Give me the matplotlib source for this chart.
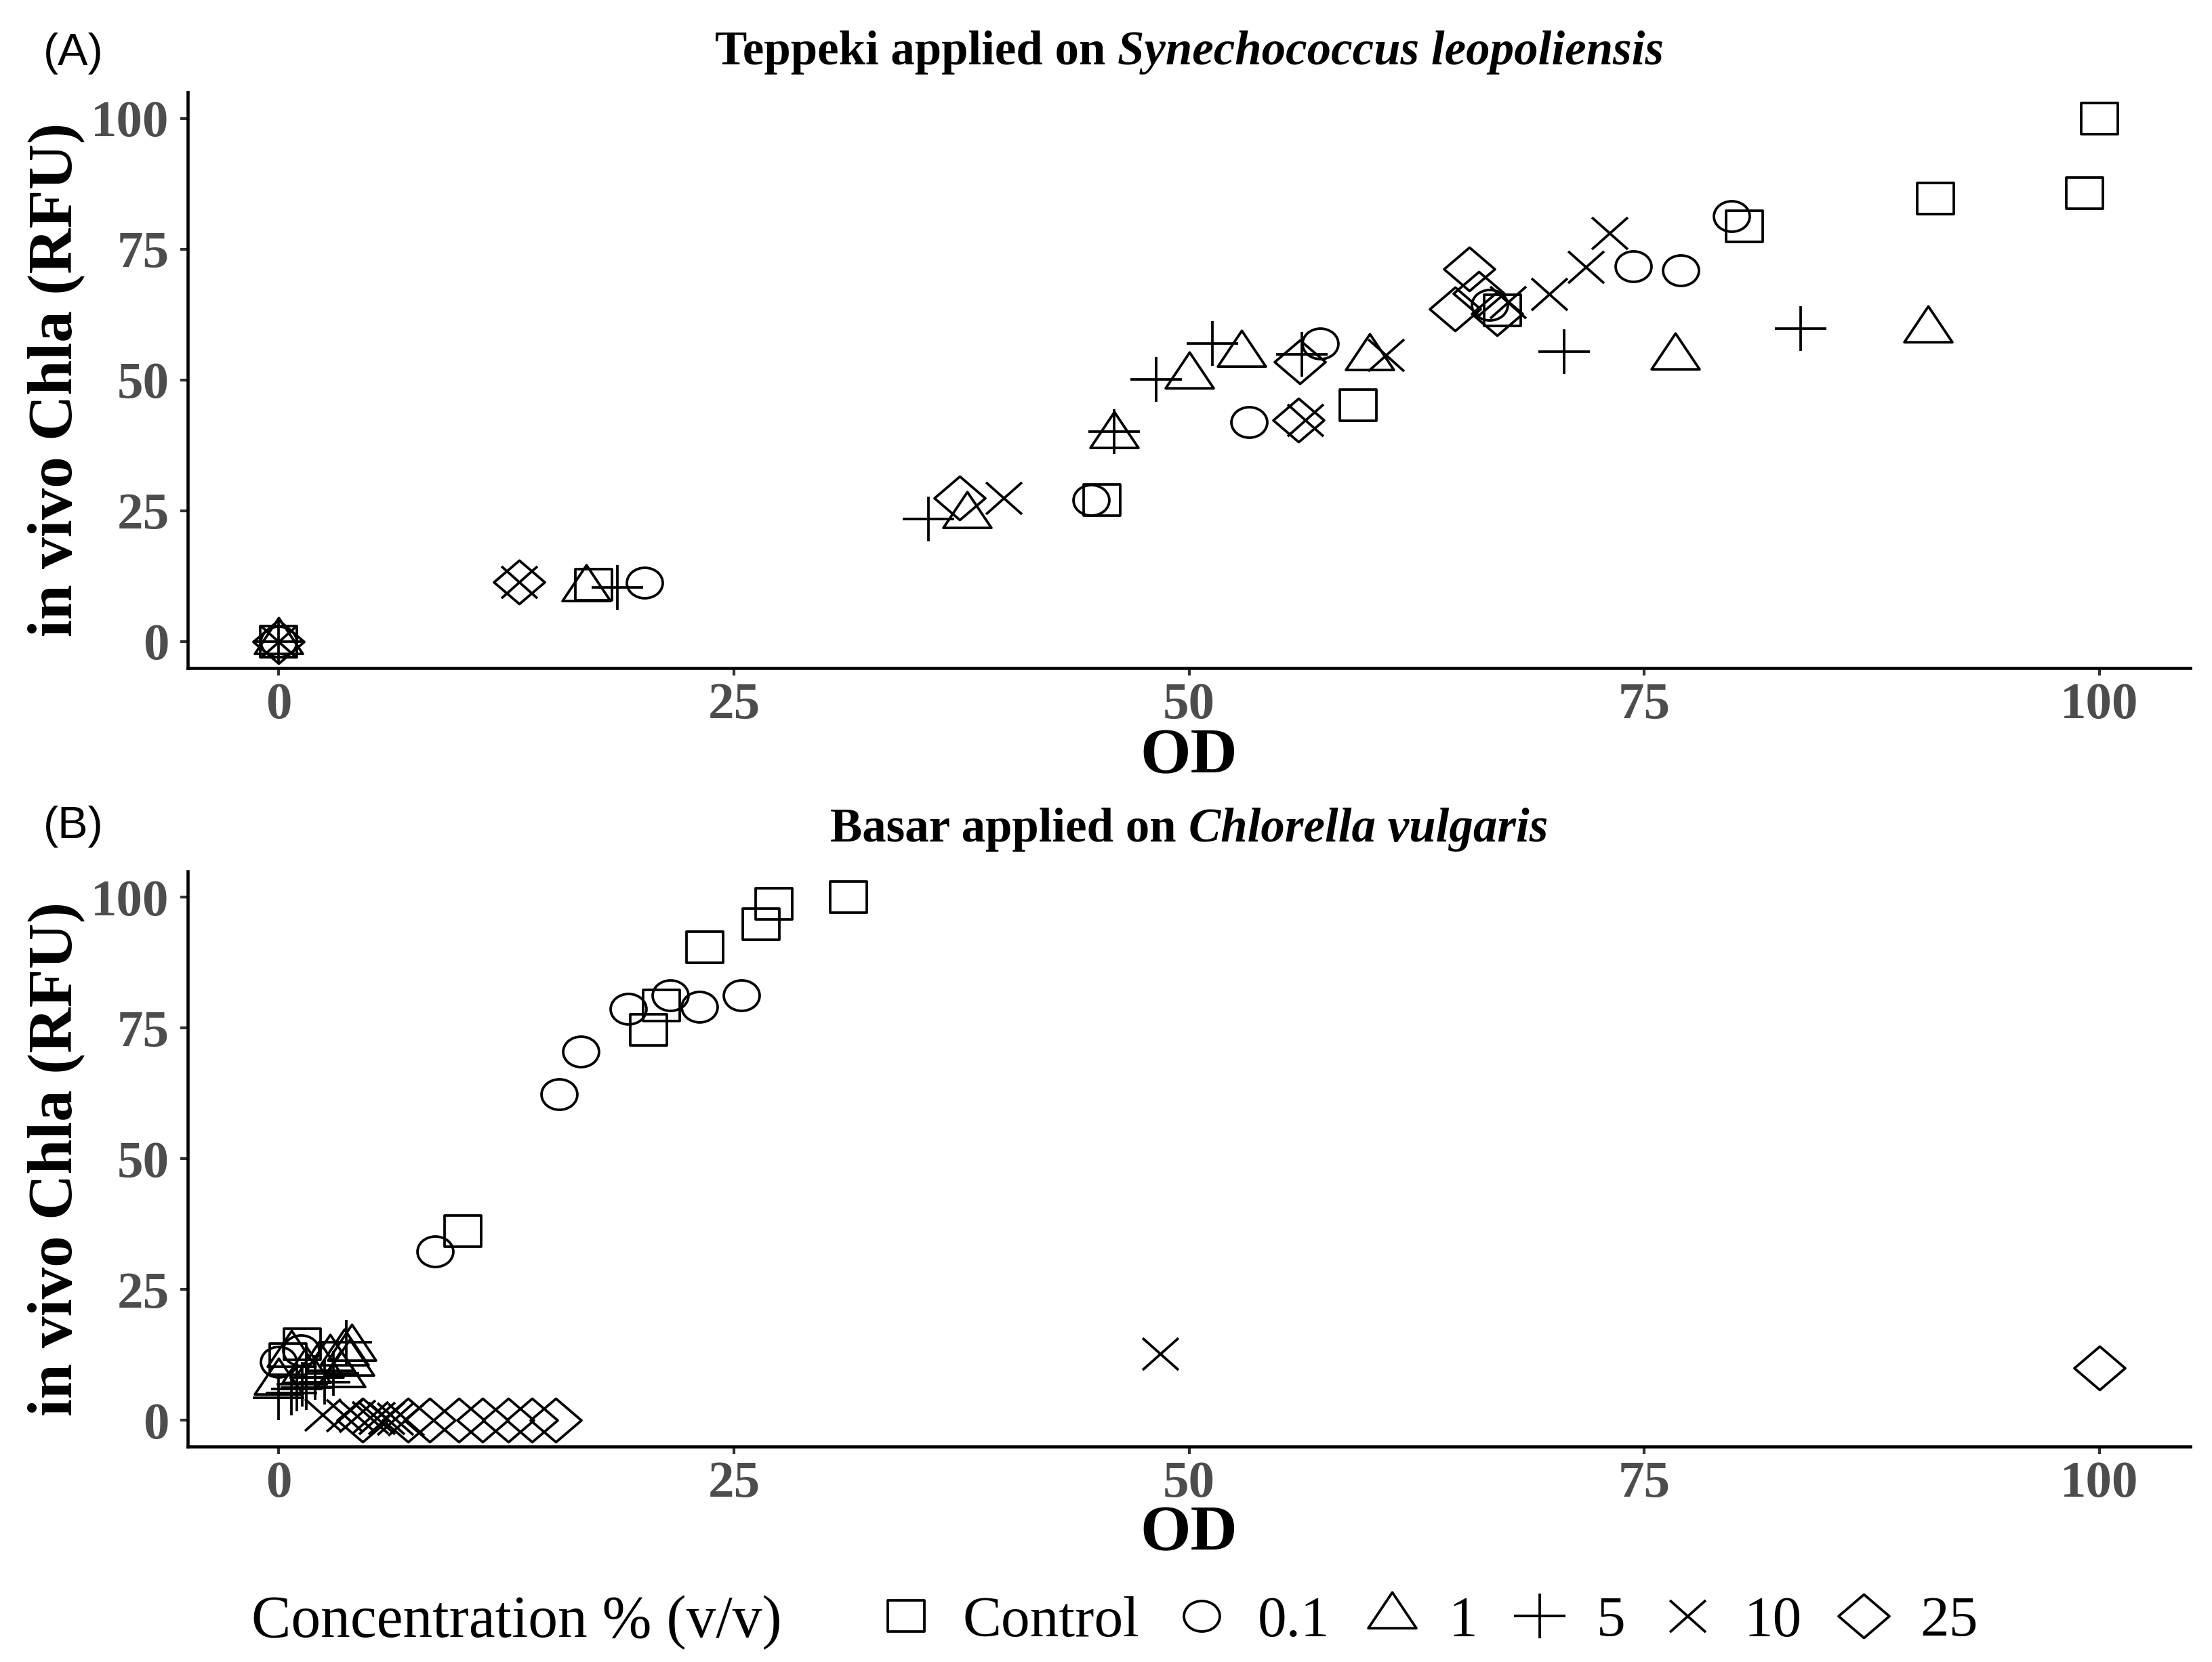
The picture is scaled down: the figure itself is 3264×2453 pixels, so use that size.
import numpy as np
import matplotlib
matplotlib.use("Agg")
import matplotlib.pyplot as plt
from matplotlib.path import Path
from matplotlib.lines import Line2D

# ---------------- data ----------------
groups = ["Control", "0.1", "1", "5", "10", "25"]

a_ctrl_x = [0, 17.3, 45.2, 59.3, 67.2, 80.5, 91.0, 99.2, 100.0]
a_ctrl_y = [0, 10.9, 27.0, 45.2, 63.3, 79.4, 84.6, 85.7, 100.0]
a_01_x = [0, 20.1, 44.6, 53.3, 57.2, 66.5, 74.4, 77.0, 79.8]
a_01_y = [0, 11.2, 27.0, 41.9, 56.9, 64.4, 71.7, 70.9, 81.3]
a_1_x = [0, 16.9, 37.8, 45.9, 50.0, 52.9, 59.9, 76.7, 90.6]
a_1_y = [0, 10.1, 24.1, 39.4, 50.7, 54.9, 54.2, 54.4, 59.6]
a_5_x = [0, 18.6, 35.7, 45.9, 48.2, 51.3, 56.2, 70.6, 83.6]
a_5_y = [0, 10.3, 23.4, 40.1, 50.1, 57.0, 54.9, 55.4, 59.8]
a_10_x = [0, 13.2, 39.8, 56.4, 60.8, 67.5, 69.8, 71.8, 73.1]
a_10_y = [0, 11.4, 27.4, 42.3, 54.7, 64.8, 66.4, 71.6, 78.0]
a_25_x = [0, 13.2, 37.4, 56.0, 56.1, 64.6, 65.4, 65.9, 66.9]
a_25_y = [0, 11.4, 27.4, 42.3, 53.4, 63.5, 71.2, 66.6, 62.7]

b_ctrl_x = [0.5, 1.3, 10.1, 20.3, 21.0, 23.4, 26.5, 27.2, 31.3]
b_ctrl_y = [11.7, 14.6, 36.2, 74.7, 79.3, 90.4, 94.8, 98.7, 100.0]
b_01_x = [0.0, 1.2, 8.6, 15.4, 16.6, 19.2, 21.5, 23.1, 25.4]
b_01_y = [11.2, 13.4, 32.3, 62.4, 70.5, 78.7, 81.2, 79.0, 81.2]
b_1_x = [0.0, 0.7, 1.5, 2.2, 2.8, 3.4, 3.6, 3.9, 4.0]
b_1_y = [7.3, 12.6, 9.5, 10.5, 11.9, 8.8, 12.9, 10.9, 13.8]
b_5_x = [0.0, 0.7, 1.0, 1.3, 1.5, 2.0, 2.5, 3.0, 3.7]
b_5_y = [4.3, 5.2, 6.0, 6.9, 6.3, 8.2, 7.3, 9.0, 15.0]
b_10_x = [2.4, 3.6, 4.3, 5.0, 5.4, 5.9, 6.4, 7.0, 48.4]
b_10_y = [1.1, 1.0, 0.8, 0.6, 0.5, 0.4, 0.3, 0.2, 12.7]
b_25_x = [4.6, 7.1, 8.3, 9.9, 11.2, 12.6, 13.9, 15.2, 100.0]
b_25_y = [0.1, 0.1, 0.1, 0.1, 0.1, 0.1, 0.1, 0.1, 10.0]

ticks = [0, 25, 50, 75, 100]

panel_a = [(a_ctrl_x, a_ctrl_y), (a_01_x, a_01_y), (a_1_x, a_1_y),
           (a_5_x, a_5_y), (a_10_x, a_10_y), (a_25_x, a_25_y)]
panel_b = [(b_ctrl_x, b_ctrl_y), (b_01_x, b_01_y), (b_1_x, b_1_y),
           (b_5_x, b_5_y), (b_10_x, b_10_y), (b_25_x, b_25_y)]

# ---------------- marker shapes (in points, slightly wide) ----------------
def square(hw, hh):
    return Path([(-hw, -hh), (hw, -hh), (hw, hh), (-hw, hh), (-hw, -hh)],
                [Path.MOVETO, Path.LINETO, Path.LINETO, Path.LINETO, Path.CLOSEPOLY])

def ellipse(rx, ry):
    c = Path.unit_circle()
    return Path(c.vertices * np.array([rx, ry]), c.codes)

def triangle(hw, h):
    return Path([(0, 2 * h / 3), (hw, -h / 3), (-hw, -h / 3), (0, 2 * h / 3)],
                [Path.MOVETO, Path.LINETO, Path.LINETO, Path.CLOSEPOLY])

def plus(hw, hh):
    return Path([(-hw, 0), (hw, 0), (0, -hh), (0, hh)],
                [Path.MOVETO, Path.LINETO, Path.MOVETO, Path.LINETO])

def cross(hw, hh):
    return Path([(-hw, -hh), (hw, hh), (-hw, hh), (hw, -hh)],
                [Path.MOVETO, Path.LINETO, Path.MOVETO, Path.LINETO])

def diamond(hw, hh):
    return Path([(0, hh), (hw, 0), (0, -hh), (-hw, 0), (0, hh)],
                [Path.MOVETO, Path.LINETO, Path.LINETO, Path.LINETO, Path.CLOSEPOLY])

shapes = [square(6.5, 5.4), ellipse(6.35, 5.4), triangle(8.5, 12.7),
          plus(9.2, 7.9), cross(6.35, 5.65), diamond(9.0, 7.7)]
sizes = [2 * np.max(np.abs(p.vertices)) for p in shapes]

SERIF = ["Liberation Serif", "DejaVu Serif"]
SANS = ["Liberation Sans", "DejaVu Sans"]
MEW = 0.9

fig = plt.figure(figsize=(10.88, 8.1767), dpi=300)

axA = fig.add_axes([0.0849, 0.5982, 0.9053, 0.3464])
axB = fig.add_axes([0.0849, 0.1296, 0.9053, 0.3463])

def style_axes(ax, xlabel_y):
    ax.set_xlim(-5, 105)
    ax.set_ylim(-5, 105)
    ax.set_xticks(ticks)
    ax.set_yticks(ticks)
    for s in ["top", "right"]:
        ax.spines[s].set_visible(False)
    for s in ["left", "bottom"]:
        ax.spines[s].set_linewidth(1.1)
        ax.spines[s].set_color("black")
    ax.tick_params(axis="both", length=2.6, width=1.0, color="#333333",
                   labelcolor="#4D4D4D", labelsize=18.5)
    ax.tick_params(axis="x", pad=2.5)
    ax.tick_params(axis="y", pad=4)
    for lab in ax.get_xticklabels() + ax.get_yticklabels():
        lab.set_family(SERIF)
        lab.set_fontweight("bold")
    ax.set_xlabel("OD", family=SERIF, fontweight="bold", fontsize=23)
    ax.set_ylabel("in vivo Chla (RFU)", family=SERIF, fontweight="bold", fontsize=22.4)
    ax.xaxis.set_label_coords(0.5, xlabel_y)
    ax.xaxis.label.set_va("center")
    ax.yaxis.set_label_coords(-0.0657, 0.5)
    ax.yaxis.label.set_va("center")

handles = []
for ax, panel, xly in [(axA, panel_a, -0.1557), (axB, panel_b, -0.1528)]:
    style_axes(ax, xly)
    for (xs, ys), shp, ms, g in zip(panel, shapes, sizes, groups):
        ln, = ax.plot(xs, ys, linestyle="none", marker=shp, markersize=ms,
                      markerfacecolor="none", markeredgecolor="black",
                      markeredgewidth=MEW, label=g, clip_on=False)
        if ax is axA:
            handles.append(ln)

# panel labels
fig.text(0.0196, 0.9678, "(A)", family=SANS, fontsize=16, ha="left", va="center")
fig.text(0.0196, 0.5026, "(B)", family=SANS, fontsize=16, ha="left", va="center")

# mixed-style titles
fig.canvas.draw()
renderer = fig.canvas.get_renderer()

def mixed_title(y, xc, parts, fontsize):
    texts = []
    for s, st in parts:
        t = fig.text(0, y, s, family=SERIF, fontweight="bold", fontstyle=st,
                     fontsize=fontsize, ha="left", va="center")
        texts.append(t)
    widths = [t.get_window_extent(renderer).width for t in texts]
    gap = 0.25 * fontsize * fig.dpi / 72.0
    total = sum(widths) + gap * (len(texts) - 1)
    W = fig.bbox.width
    x = xc * W - total / 2
    for t, w in zip(texts, widths):
        t.set_x(x / W)
        x += w + gap

xc = 0.0849 + 0.9053 / 2
mixed_title(0.9686, xc, [("Teppeki applied on", "normal"),
                         ("Synechococcus leopoliensis", "italic")], 17)
mixed_title(0.5010, xc, [("Basar applied on", "normal"),
                         ("Chlorella vulgaris", "italic")], 17)

# legend
fig.text(0.1136, 0.0240, "Concentration % (v/v)", family=SERIF, fontsize=21,
         ha="left", va="center")
leg = fig.legend(handles=handles, labels=groups, ncol=6, loc="center left",
                 bbox_to_anchor=(0.3945, 0.0240), frameon=False, borderpad=0,
                 borderaxespad=0, handlelength=1.15, handletextpad=0.4,
                 columnspacing=0.5, prop={"family": SERIF, "size": 20.5})

fig.savefig("out.png", dpi=300, facecolor="white")
